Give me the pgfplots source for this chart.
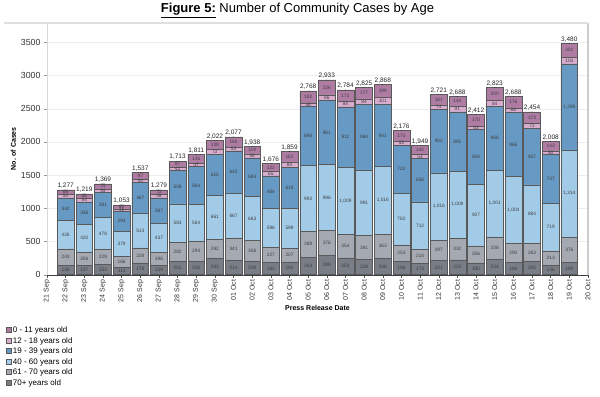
\documentclass[border=0pt]{standalone}
\usepackage{fontspec}
\setmainfont{Liberation Sans}
\usepackage{pgfplots}
\usepackage{pgfplotstable}
\pgfplotsset{compat=1.18}
\definecolor{cA}{HTML}{AE7BA3}
\definecolor{cB}{HTML}{D9ABCD}
\definecolor{cC}{HTML}{6699C4}
\definecolor{cD}{HTML}{A2CBE8}
\definecolor{cE}{HTML}{A5AAB2}
\definecolor{cF}{HTML}{787D86}
\pgfplotstableread{
x a70 a61 a40 a19 a12 a0 tot
1 146 243 426 342 54 66 1277
2 137 206 420 336 54 66 1219
3 152 229 478 381 54 75 1369
4 113 166 379 294 41 60 1053
5 178 228 513 467 54 97 1537
6 139 196 437 387 48 72 1279
7 201 282 583 508 42 97 1713
8 206 294 564 564 47 136 1811
9 243 292 661 615 72 139 2022
10 214 341 667 642 53 160 2077
11 208 306 663 584 58 119 1938
12 182 227 596 484 65 122 1676
13 194 207 599 618 80 161 1859
14 264 388 992 896 46 182 2768
15 288 376 996 961 86 226 2933
16 254 354 1009 911 84 172 2784
17 228 361 991 984 84 177 2825
18 248 363 1016 941 101 199 2868
19 196 253 782 722 53 170 2176
20 173 214 712 656 54 140 1949
21 221 297 1016 952 74 161 2721
22 223 330 1009 891 91 144 2688
23 180 256 927 826 53 170 2412
24 234 338 1001 966 84 200 2823
25 186 290 1004 966 66 176 2688
26 205 263 884 857 72 173 2454
27 146 213 719 737 50 143 2008
28 190 376 1314 1295 104 201 3480
}\data
\pgfplotsset{
  seg/.style={
    fill=#1, draw=black!65, line width=0.5pt,
    point meta=explicit,
    nodes near coords={\pgfmathprintnumber[fixed,precision=0,1000 sep={,}]{\pgfplotspointmeta}},
    every node near coord/.append style={anchor=center,
      font=\fontsize{4.8}{5}\selectfont, text=black!75, inner sep=0pt},
  },
  base/.style={scale only axis, width=541pt, height=252pt,
    xmin=0, xmax=29, ymin=0, ymax=3795, clip=false,
    /pgf/number format/assume math mode=true},
}
\begin{document}
\begin{tikzpicture}
\begin{axis}[
  base,
  ybar stacked, bar width=0.9,
  axis x line*=bottom, axis y line*=left,
  axis line style={-},
  x axis line style={black!75},
  y axis line style={black!15},
  tick align=outside,
  major tick length=3pt,
  xtick={0,...,29},
  xticklabels={21 Sep,22 Sep,23 Sep,24 Sep,25 Sep,26 Sep,27 Sep,28 Sep,29 Sep,30 Sep,01 Oct,02 Oct,03 Oct,04 Oct,05 Oct,06 Oct,07 Oct,08 Oct,09 Oct,10 Oct,11 Oct,12 Oct,13 Oct,14 Oct,15 Oct,16 Oct,17 Oct,18 Oct,19 Oct,20 Oct},
  xticklabel style={rotate=90, anchor=east, font=\fontsize{7}{8}\selectfont, text=black!80, inner sep=2pt},
  xtick style={draw=black!70, thin},
  ytick={0,500,...,3500},
  yticklabel style={font=\fontsize{8.8}{9}\selectfont, text=black!80},
  ytick style={draw=black!40, thin},
  /pgf/number format/1000 sep={},
  ymajorgrids, grid style={black!7},
  xlabel={\textbf{Press Release Date}},
  xlabel style={font=\fontsize{7}{8}\selectfont, inner sep=1pt},
  ylabel={\textbf{No. of Cases}},
  ylabel style={font=\fontsize{7}{8}\selectfont, yshift=-2pt},
  title={\underline{\textbf{Figure 5:}} Number of Community Cases by Age},
  title style={font=\fontsize{13}{15}\selectfont, at={(0.5,1)}, anchor=base, yshift=4pt, xshift=-20pt},
  legend style={at={(-0.0758,-0.2)}, anchor=north west, draw=none, fill=none,
    font=\fontsize{8}{9}\selectfont, row sep=0.2pt, inner sep=0pt,
    nodes={inner sep=1.3pt, text height=6pt, text depth=1.7pt}},
  legend cell align=left,
  legend image code/.code={\draw[#1] (0pt,-2.2pt) rectangle (5pt,2.8pt);},
]
\addlegendimage{fill=cA, draw=black!65}\addlegendentry{0 - 11 years old}
\addlegendimage{fill=cB, draw=black!65}\addlegendentry{12 - 18 years old}
\addlegendimage{fill=cC, draw=black!65}\addlegendentry{19 - 39 years old}
\addlegendimage{fill=cD, draw=black!65}\addlegendentry{40 - 60 years old}
\addlegendimage{fill=cE, draw=black!65}\addlegendentry{61 - 70 years old}
\addlegendimage{fill=cF, draw=black!65}\addlegendentry{70+ years old}
\addplot[seg=cF] table[x=x, y=a70, meta=a70] {\data};
\addplot[seg=cE] table[x=x, y=a61, meta=a61] {\data};
\addplot[seg=cD] table[x=x, y=a40, meta=a40] {\data};
\addplot[seg=cC] table[x=x, y=a19, meta=a19] {\data};
\addplot[seg=cB] table[x=x, y=a12, meta=a12] {\data};
\addplot[seg=cA] table[x=x, y=a0, meta=a0] {\data};
\draw[black!12, line width=1.5pt] (rel axis cs:-0.08,1) -- (rel axis cs:1,1);
\draw[black!20, line width=1.5pt] (rel axis cs:1,0) -- (rel axis cs:1,1);
\path (rel axis cs:-0.0869,-0.484) rectangle (rel axis cs:1.0222,1.0835);
\end{axis}
\begin{axis}[base, hide axis]
\addplot[only marks, mark=*, mark size=0.01pt, mark options={draw=none, fill=none},
  point meta=explicit,
  nodes near coords={\pgfmathprintnumber[fixed,precision=0,1000 sep={,}]{\pgfplotspointmeta}},
  every node near coord/.append style={anchor=south, font=\fontsize{6.5}{7}\selectfont, text=black!85, inner sep=1pt}]
  table[x=x, y=tot, meta=tot] {\data};
\end{axis}
\end{tikzpicture}
\end{document}
